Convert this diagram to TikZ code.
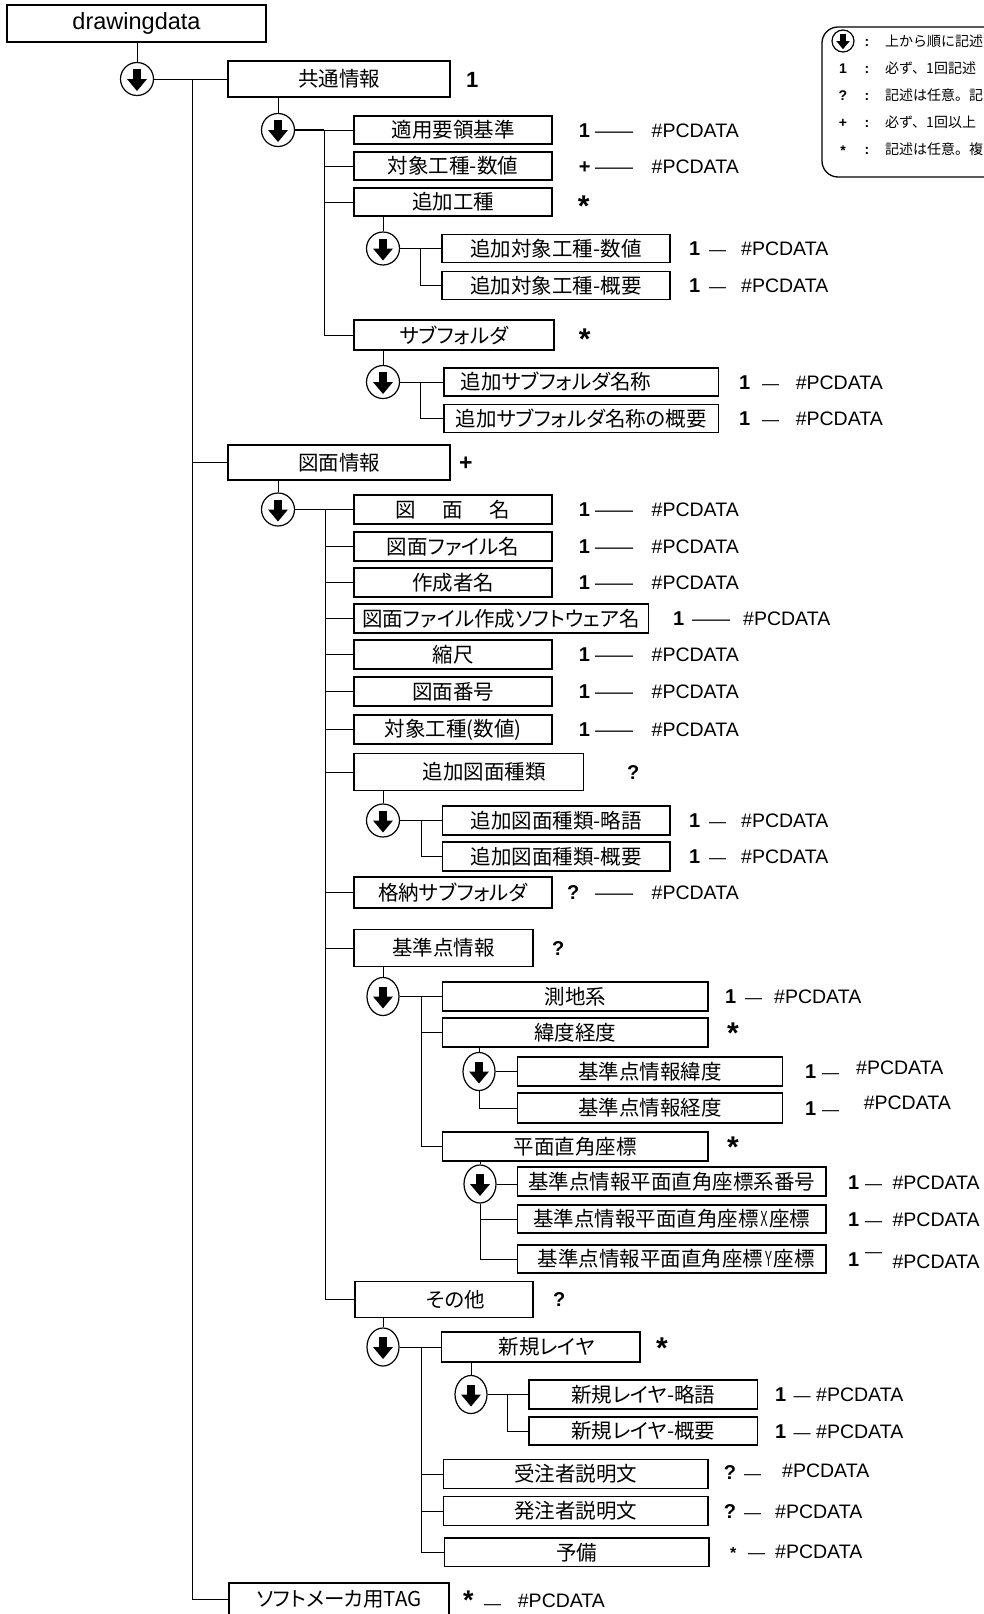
\documentclass[tikz,border=0pt]{standalone}
\usepackage{fontspec}
\setmainfont{Liberation Sans}
\newfontfamily\jp[RawFeature=+palt]{Noto Sans CJK JP}
\newfontfamily\jpl{Noto Sans CJK JP}
\newfontfamily\lat{Liberation Sans}
\usetikzlibrary{shapes.geometric}
\tikzset{
  bx/.style={draw, line width=1.3pt, inner sep=0pt, font=\jp\fontsize{20.5}{20.5}\selectfont},
  seqc/.style={circle, draw, line width=1.2pt, fill=white, minimum size=33pt, inner sep=0pt},
  seqe/.style={ellipse, draw, line width=1.2pt, fill=white, minimum width=32pt, minimum height=38pt, inner sep=0pt},
  ln/.style={line width=1pt},
  lnb/.style={line width=1.6pt},
  cnt/.style={anchor=base west, inner sep=0pt, xshift=-4pt, font=\bfseries\fontsize{20}{20}\selectfont},
  star/.style={anchor=base west, inner sep=0pt, xshift=-5pt, font=\bfseries\fontsize{30}{30}\selectfont},
  pcd/.style={anchor=base west, inner sep=0pt, font=\fontsize{19.5}{19.5}\selectfont},
  dsh/.style={anchor=base west, inner sep=0pt, font=\fontsize{17}{17}\selectfont},
  jt/.style={inner sep=0pt, font=\jp\fontsize{20.5}{20.5}\selectfont},
  lgt/.style={anchor=base west, inner sep=0pt, font=\jpl\fontsize{14}{14}\selectfont},
  lgs/.style={anchor=base, inner sep=0pt, font=\bfseries\fontsize{14}{14}\selectfont},
  seqarrow/.pic={\fill (-4,-10) rectangle (4,1); \fill (-10,0) -- (10,0) -- (0,12) -- cycle;}
}
\newcommand\bx[6]{\node[bx, minimum width={(#4-#2)*1pt}, minimum height={(#5-#3)*1pt}] (#1) at ({(#2+#4)/2},{(#3+#5)/2}) {#6};}
\newcommand\bxt[7]{\node[bx, minimum width={(#4-#2)*1pt}, minimum height={(#5-#3)*1pt}] (#1) at ({(#2+#4)/2},{(#3+#5)/2}) {};
  \node[jt] (#1t) at (#6,{(#3+#5)/2}) {#7};}
\newcommand\ann[8]{\node[cnt] (#1c) at (#2,#3) {#4}; \node[dsh] (#1d) at (#5,#3) {#6}; \node[pcd] (#1p) at (#7,#8) {\#PCDATA};}
\newcommand\seqC[3]{\node[seqc] (#1) at (#2,#3) {}; \pic at (#1) {seqarrow};}
\newcommand\seqE[3]{\node[seqe] (#1) at (#2,#3) {}; \pic at (#1) {seqarrow};}
\newcommand\narrow[1]{\hspace{1.5pt}{\lat\fontsize{22}{22}\selectfont\scalebox{0.5}[1]{#1}}\hspace{1.5pt}}
\begin{document}
\begin{tikzpicture}[x=1pt,y=-1pt]
\useasboundingbox (0,0) rectangle (983,1614);
% legend
\draw[line width=1.3pt, rounded corners=16pt] (822,27) rectangle (1010,177);
\node[seqc, minimum size=22pt] (l0) at (843,41) {}; \pic[scale=0.68] at (l0) {seqarrow};
\node[lgs] (l1s) at (843,73) {1};
\node[lgs] (l2s) at (843,100) {?};
\node[lgs] (l3s) at (843,127) {+};
\node[lgs] (l4s) at (843,155) {*};
\foreach \yy/\nn in {46/a,73/b,100/c,127/d,154/e} {\node[lgs] (lc\nn) at (867,\yy) {:};}
\node[lgt] (l0t) at (885,46) {上から順に記述};
\node[lgt] (l1t) at (885,73) {必ず、1回記述};
\node[lgt] (l2t) at (885,100) {記述は任意。記};
\node[lgt] (l3t) at (885,127) {必ず、1回以上};
\node[lgt] (l4t) at (885,154) {記述は任意。複};

% level 1
\node[bx, font=\fontsize{23.5}{23.5}\selectfont, minimum width=259pt, minimum height=37pt] (dd) at (136.5,23.5) {drawingdata};
\seqC{c1}{137}{79}
\bx{gk}{228}{61}{450}{97}{共通情報}
\bx{zm}{228}{445}{450}{480}{図面情報}
\bx{tag}{229}{1583}{449}{1616}{ソフトメーカ用TAG}
\node[cnt, font=\bfseries\fontsize{22}{22}\selectfont] (gkn) at (470,87) {1};
\node[cnt, font=\bfseries\fontsize{23}{23}\selectfont] (zmn) at (463,470) {+};
\coordinate (t1) at (192,79);
\draw[ln] (c1 |- dd.south) -- (c1.north);
\draw[ln] (c1.east) -- (gk.west);
\draw[ln] (t1) |- (zm.west);
\draw[ln] (t1) |- (tag.west);
\ann{w1}{467}{1609}{\fontsize{27}{27}\selectfont *}{484}{—}{517.7}{1607}

% 共通情報
\seqC{c2}{278}{130}
\bx{a1}{354}{116}{552}{144}{適用要領基準}
\bx{a2}{354}{152}{552}{180}{対象工種-数値}
\bx{a3}{354}{188}{552}{216}{追加工種}
\bx{a4}{354}{320}{554}{350}{サブフォルダ}
\coordinate (t2) at (324,130);
\draw[ln] (c2 |- gk.south) -- (c2.north);
\draw[lnb] (c2.east) -- (t2);
\draw[ln] (t2) -- (a1.west);
\draw[ln] (t2) |- (a2.west);
\draw[ln] (t2) |- (a3.west);
\draw[ln] (t2) |- (a4.west);
\ann{r1}{582.6}{137}{1}{595}{\fontsize{19}{19}\selectfont ——}{651.5}{137}
\ann{r2}{582.6}{173}{+}{595}{\fontsize{19}{19}\selectfont ——}{651.5}{173}
\node[star] (a3n) at (582.6,216) {*};
\node[star] (a4n) at (583.6,349.5) {*};

\seqC{c3}{383}{248.5}
\bx{b1}{442}{234.5}{670}{262.5}{追加対象工種-数値}
\bx{b2}{442}{271.5}{670}{299.5}{追加対象工種-概要}
\coordinate (t3) at (420,248.5);
\draw[ln] (c3 |- a3.south) -- (c3.north);
\draw[ln] (c3.east) -- (b1.west);
\draw[ln] (t3) |- (b2.west);
\ann{r3}{693}{255.5}{1}{709}{—}{741}{255.5}
\ann{r4}{693}{292.5}{1}{709}{—}{741}{292.5}

\seqC{c4}{383}{382}
\bxt{b3}{444}{368}{718.5}{396}{556}{追加サブフォルダ名称}
\bx{b4}{444}{404.5}{718.5}{432.5}{追加サブフォルダ名称の概要}
\coordinate (t4) at (420,382);
\draw[ln] (c4 |- a4.south) -- (c4.north);
\draw[ln] (c4.east) -- (b3.west);
\draw[ln] (t4) |- (b4.west);
\ann{r5}{743}{389}{1}{762}{—}{795.6}{389}
\ann{r6}{743}{425.5}{1}{762}{—}{795.6}{425.5}

% 図面情報
\seqC{c5}{278}{509.5}
\bx{d1}{354}{495}{552}{524}{図\hspace{1.3em}面\hspace{1.3em}名}
\bx{d2}{354}{532}{552}{561}{図面ファイル名}
\bx{d3}{354}{568}{552}{597}{作成者名}
\bx{d4}{354}{604}{648.5}{633}{図面ファイル作成ソフトウェア名}
\bx{d5}{354}{640}{552}{669}{縮尺}
\bx{d6}{354}{677}{552}{706}{図面番号}
\bx{d7}{354}{715}{552}{744}{対象工種(数値)}
\bxt{d8}{354}{753.5}{583.6}{790.5}{484}{追加図面種類}
\bx{d9}{354}{877}{552}{908}{格納サブフォルダ}
\bx{d10}{354}{929.5}{533}{966.5}{基準点情報}
\bxt{d11}{355}{1281.5}{533}{1317.5}{455.5}{その他}
\coordinate (t5) at (325,509.5);
\draw[ln] (c5 |- zm.south) -- (c5.north);
\draw[ln] (c5.east) -- (d1.west);
\foreach \n in {d2,d3,d4,d5,d6,d7,d8,d10,d11} {\draw[ln] (t5) |- (\n.west);}
\draw[lnb] (t5 |- d9.west) -- (d9.west);
\draw[ln] (t5) -- (t5 |- d9.west);
\ann{s1}{582.6}{516.5}{1}{595}{\fontsize{19}{19}\selectfont ——}{651.5}{516.5}
\ann{s2}{582.6}{553.5}{1}{595}{\fontsize{19}{19}\selectfont ——}{651.5}{553.5}
\ann{s3}{582.6}{589.5}{1}{595}{\fontsize{19}{19}\selectfont ——}{651.5}{589.5}
\ann{s4}{677}{625.5}{1}{692}{\fontsize{19}{19}\selectfont ——}{743}{625.5}
\ann{s5}{582.6}{661.5}{1}{595}{\fontsize{19}{19}\selectfont ——}{651.5}{661.5}
\ann{s6}{582.6}{698.5}{1}{595}{\fontsize{19}{19}\selectfont ——}{651.5}{698.5}
\ann{s7}{582.6}{736.5}{1}{595}{\fontsize{19}{19}\selectfont ——}{651.5}{736.5}
\node[cnt] (d8n) at (631,779) {?};
\ann{s10}{571}{899.5}{?}{595}{\fontsize{19}{19}\selectfont ——}{651.5}{899.5}
\node[cnt] (d10n) at (556,955) {?};
\node[cnt] (d11n) at (557,1306) {?};

\seqC{c6}{383}{820.5}
\bx{e1}{442.6}{806}{670}{835}{追加図面種類-略語}
\bx{e2}{442.6}{842}{670}{871}{追加図面種類-概要}
\coordinate (t6) at (421,820.5);
\draw[ln] (c6 |- d8.south) -- (c6.north);
\draw[ln] (c6.east) -- (e1.west);
\draw[ln] (t6) |- (e2.west);
\ann{s8}{693}{827.5}{1}{709}{—}{741}{827.5}
\ann{s9}{693}{863.5}{1}{709}{—}{741}{863.5}

% 基準点情報
\seqE{c7}{383}{996.5}
\bx{f1}{442.6}{982}{708}{1011}{測地系}
\bx{f2}{442.6}{1018}{708}{1047}{緯度経度}
\bx{f3}{442.6}{1132}{708}{1161}{平面直角座標}
\coordinate (t7) at (421,996.5);
\draw[ln] (c7 |- d10.south) -- (c7.north);
\draw[ln] (c7.east) -- (f1.west);
\draw[ln] (t7) |- (f2.west);
\draw[ln] (t7) |- (f3.west);
\ann{u1}{729}{1003.5}{1}{745}{—}{774}{1003.5}
\node[star] (f2n) at (732,1043) {*};
\node[star] (f3n) at (732,1157.5) {*};

\seqE{c8}{479}{1071.5}
\bx{g1}{517.7}{1057}{782.3}{1086}{基準点情報緯度}
\bx{g2}{517.7}{1093}{782.3}{1123}{基準点情報経度}
\draw[ln] (c8 |- f2.south) -- (c8.north);
\draw[ln] (c8.east) -- (g1.west);
\draw[ln] (c8.south) |- (g2.west);
\ann{u2}{809}{1078.5}{1}{822}{—}{856}{1074.5}
\ann{u3}{809}{1115}{1}{822}{—}{863.6}{1109.5}

\seqE{c9}{480}{1184}
\bx{h1}{517.5}{1167}{826}{1196}{基準点情報平面直角座標系番号}
\bx{h2}{517.5}{1205}{826}{1233}{基準点情報平面直角座標\narrow{X}座標}
\bx{h3}{517.5}{1245}{826}{1273}{\hspace{9pt}基準点情報平面直角座標\narrow{Y}座標}
\draw[ln] (c9 |- f3.south) -- (c9.north);
\draw[ln] (c9.east) -- (c9.east -| h1.west);
\draw[ln] (c9.south) |- (h2.west);
\draw[ln] (c9.south) |- (h3.west);
\ann{u4}{852}{1189.5}{1}{865}{—}{892.4}{1189.5}
\ann{u5}{852}{1226}{1}{865}{—}{892.4}{1226}
\ann{u6}{852}{1266}{1}{865}{\raisebox{9pt}{—}}{892.4}{1268}

% その他
\seqE{c10}{383}{1347}
\bxt{k1}{441.6}{1332}{640}{1362}{546.6}{新規レイヤ}
\bx{k2}{443.6}{1459.5}{708}{1488.5}{受注者説明文}
\bx{k3}{443.6}{1496.5}{708}{1525.5}{発注者説明文}
\bx{k4}{444.7}{1538}{709}{1566.6}{予備}
\coordinate (t10) at (421,1347);
\draw[ln] (c10 |- d11.south) -- (c10.north);
\draw[ln] (c10.east) -- (k1.west);
\draw[ln] (t10) |- (k2.west);
\draw[ln] (t10) |- (k3.west);
\draw[ln] (t10) |- (k4.west);
\node[star] (k1n) at (661,1358) {*};
\ann{v3}{727.7}{1479}{?}{744}{—}{782}{1477}
\ann{v4}{727.7}{1518}{?}{744}{—}{775}{1518}
\ann{v5}{734}{1558}{\fontsize{16}{16}\selectfont *}{748}{—}{775}{1558}

\seqE{c11}{471}{1394.5}
\bx{m1}{529}{1380}{757.6}{1409}{新規レイヤ-略語}
\bx{m2}{529}{1417}{757.6}{1445}{新規レイヤ-概要}
\coordinate (t11) at (507,1394.5);
\draw[ln] (c11 |- k1.south) -- (c11.north);
\draw[ln] (c11.east) -- (m1.west);
\draw[ln] (t11) |- (m2.west);
\ann{v1}{779}{1401.5}{1}{793.5}{—}{816}{1401.5}
\ann{v2}{779}{1438}{1}{793.5}{—}{816}{1438}
\end{tikzpicture}
\end{document}
